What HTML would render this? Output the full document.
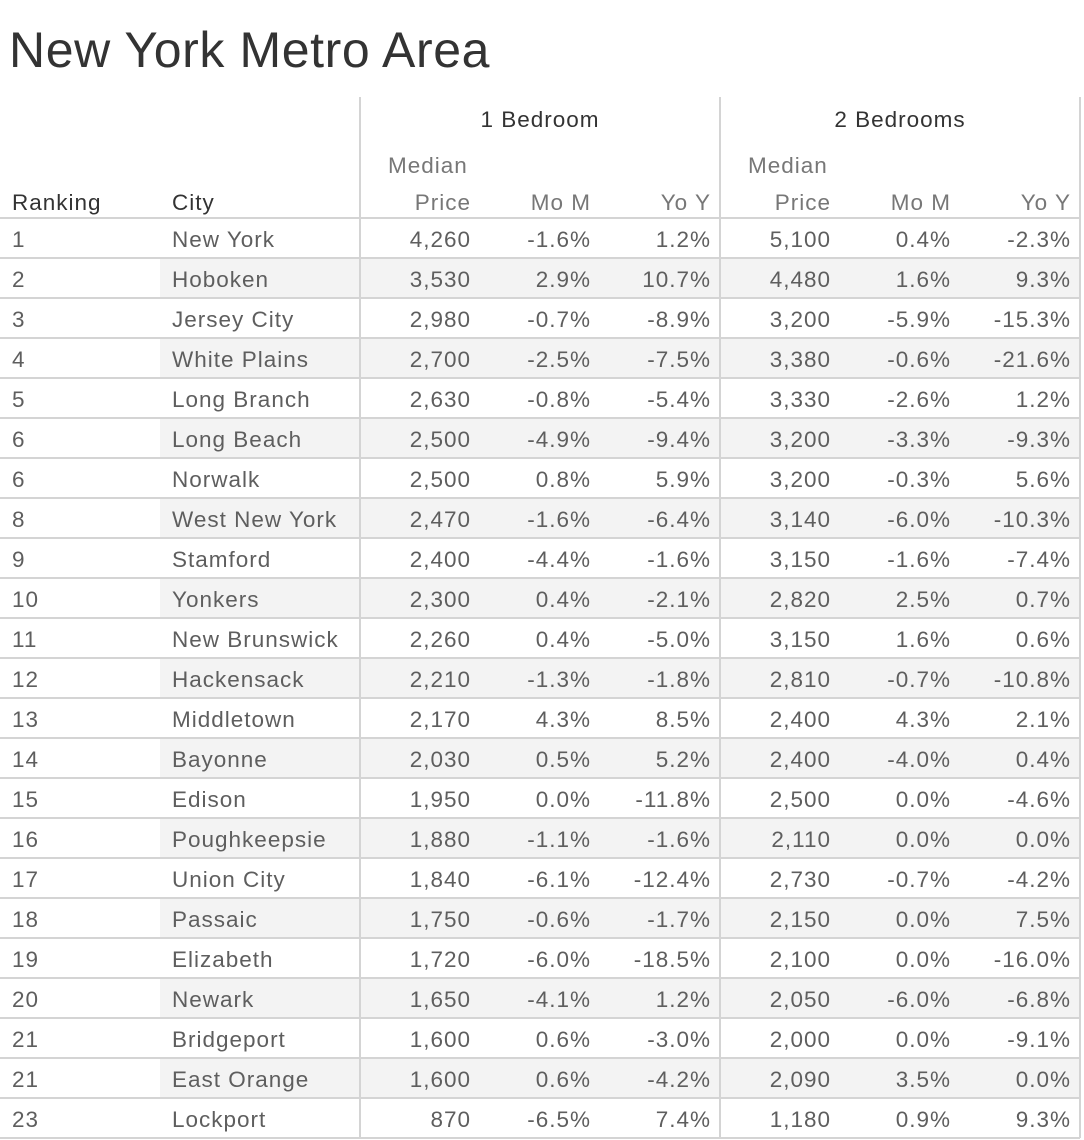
<!DOCTYPE html>
<html><head><meta charset="utf-8"><style>
*{margin:0;padding:0;box-sizing:border-box}
body{width:1084px;height:1140px;background:#fff;font-family:"Liberation Sans",sans-serif;position:relative;overflow:hidden;color:#5e5e5e}
.t{position:absolute;left:9px;top:20px;font-size:50px;color:#333;line-height:60px;letter-spacing:0.6px}
.a{position:absolute;font-size:22.5px;line-height:40px;white-space:nowrap;letter-spacing:1px}
.r{text-align:right}
.h{color:#333}
.v{position:absolute;top:97px;width:2px;height:1041px;background:#d4d4d4}
.row{position:absolute;left:0;width:1080px;height:40px;border-bottom:2px solid #d4d4d4}
.sh{position:absolute;left:160px;width:920px;height:38px;background:#f3f3f3}
</style></head><body>
<div class="t">New York Metro Area</div>
<div class="a h" style="left:360px;width:360px;top:100px;text-align:center">1 Bedroom</div>
<div class="a h" style="left:720px;width:360px;top:100px;text-align:center">2 Bedrooms</div>
<div class="a" style="left:388px;top:146px;color:#777">Median</div>
<div class="a" style="left:748px;top:146px;color:#777">Median</div>
<div class="a h" style="left:12px;top:183px">Ranking</div>
<div class="a h" style="left:172px;top:183px">City</div>
<div class="a r" style="left:360px;width:111px;top:183px;color:#777">Price</div>
<div class="a r" style="left:480px;width:111px;top:183px;color:#777">Mo M</div>
<div class="a r" style="left:600px;width:111px;top:183px;color:#777">Yo Y</div>
<div class="a r" style="left:720px;width:111px;top:183px;color:#777">Price</div>
<div class="a r" style="left:840px;width:111px;top:183px;color:#777">Mo M</div>
<div class="a r" style="left:960px;width:111px;top:183px;color:#777">Yo Y</div>
<div style="position:absolute;left:0;top:217px;width:1080px;height:2px;background:#d4d4d4"></div>
<div id="rows"></div>
<div class="v" style="left:359px"></div>
<div class="v" style="left:719px"></div>
<div class="v" style="left:1079px"></div>
<script>
var d=[["1","New York","4,260","-1.6%","1.2%","5,100","0.4%","-2.3%"],
["2","Hoboken","3,530","2.9%","10.7%","4,480","1.6%","9.3%"],
["3","Jersey City","2,980","-0.7%","-8.9%","3,200","-5.9%","-15.3%"],
["4","White Plains","2,700","-2.5%","-7.5%","3,380","-0.6%","-21.6%"],
["5","Long Branch","2,630","-0.8%","-5.4%","3,330","-2.6%","1.2%"],
["6","Long Beach","2,500","-4.9%","-9.4%","3,200","-3.3%","-9.3%"],
["6","Norwalk","2,500","0.8%","5.9%","3,200","-0.3%","5.6%"],
["8","West New York","2,470","-1.6%","-6.4%","3,140","-6.0%","-10.3%"],
["9","Stamford","2,400","-4.4%","-1.6%","3,150","-1.6%","-7.4%"],
["10","Yonkers","2,300","0.4%","-2.1%","2,820","2.5%","0.7%"],
["11","New Brunswick","2,260","0.4%","-5.0%","3,150","1.6%","0.6%"],
["12","Hackensack","2,210","-1.3%","-1.8%","2,810","-0.7%","-10.8%"],
["13","Middletown","2,170","4.3%","8.5%","2,400","4.3%","2.1%"],
["14","Bayonne","2,030","0.5%","5.2%","2,400","-4.0%","0.4%"],
["15","Edison","1,950","0.0%","-11.8%","2,500","0.0%","-4.6%"],
["16","Poughkeepsie","1,880","-1.1%","-1.6%","2,110","0.0%","0.0%"],
["17","Union City","1,840","-6.1%","-12.4%","2,730","-0.7%","-4.2%"],
["18","Passaic","1,750","-0.6%","-1.7%","2,150","0.0%","7.5%"],
["19","Elizabeth","1,720","-6.0%","-18.5%","2,100","0.0%","-16.0%"],
["20","Newark","1,650","-4.1%","1.2%","2,050","-6.0%","-6.8%"],
["21","Bridgeport","1,600","0.6%","-3.0%","2,000","0.0%","-9.1%"],
["21","East Orange","1,600","0.6%","-4.2%","2,090","3.5%","0.0%"],
["23","Lockport","870","-6.5%","7.4%","1,180","0.9%","9.3%"]];
var h="",rx=[360,480,600,720,840,960];
d.forEach(function(r,i){var t=219+40*i;
h+='<div class="row" style="top:'+t+'px">'+(i%2?'<div class="sh" style="top:0"></div>':'')+'</div>';
h+='<div class="a" style="left:12px;top:'+(t+1)+'px">'+r[0]+'</div>';
h+='<div class="a" style="left:172px;top:'+(t+1)+'px">'+r[1]+'</div>';
for(var k=0;k<6;k++)h+='<div class="a r" style="left:'+rx[k]+'px;width:111px;top:'+(t+1)+'px">'+r[k+2]+'</div>';});
document.getElementById("rows").innerHTML=h;
</script>
</body></html>
